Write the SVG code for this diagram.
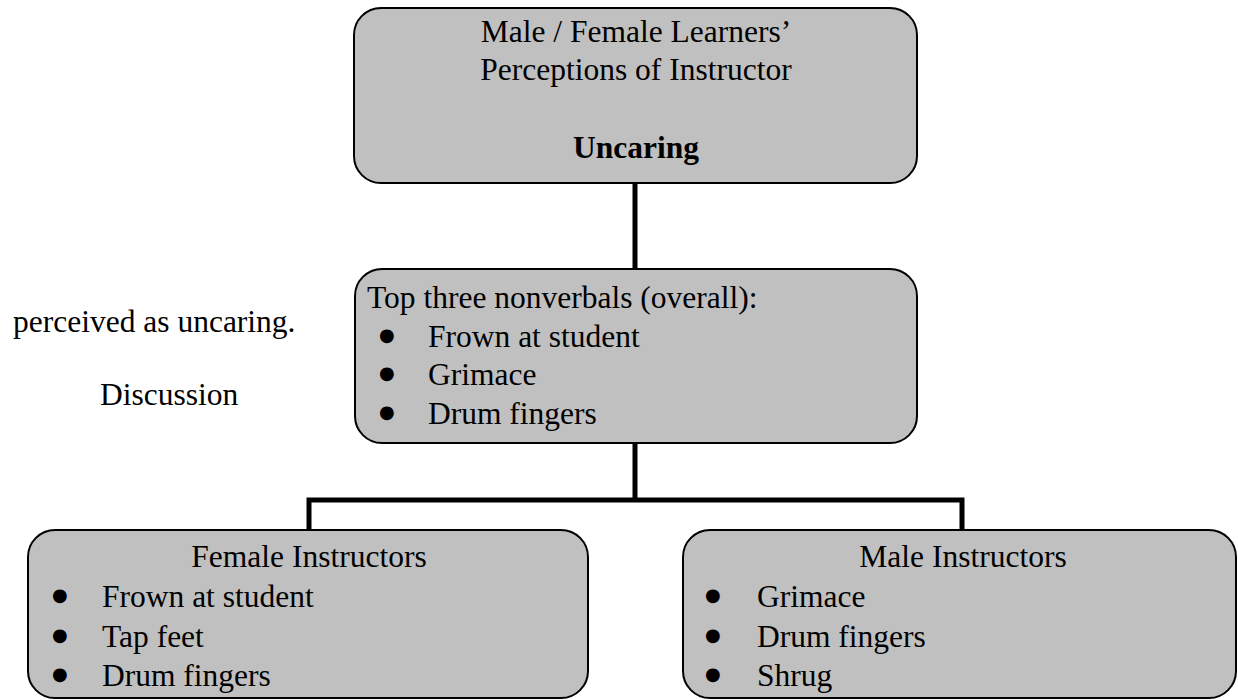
<svg xmlns="http://www.w3.org/2000/svg" width="1238" height="700" viewBox="0 0 1238 700">
<style>
.box{fill:#c0c0c0;stroke:#000;stroke-width:2}
.t{font-family:"Liberation Serif","Times New Roman",serif;font-size:31.5px;fill:#000}
.c{text-anchor:middle}
.b{font-weight:bold}
.bl{font-family:"DejaVu Sans",sans-serif;font-size:18px}
.conn{stroke:#000;stroke-width:5;fill:none}
</style>
<rect width="1238" height="700" fill="#fff"/>
<g id="connectors">
<line class="conn" x1="635" y1="183" x2="635" y2="269"/>
<line class="conn" x1="635" y1="443" x2="635" y2="500"/>
<polyline class="conn" points="309,530 309,500 962,500 962,530"/>
</g>
<g id="top">
<rect class="box" x="354" y="8" width="563" height="175" rx="27"/>
<text class="t c" x="636" y="42">Male / Female Learners’</text>
<text class="t c" x="636" y="80">Perceptions of Instructor</text>
<text class="t c b" x="636" y="158">Uncaring</text>
</g>
<g id="middle">
<rect class="box" x="355" y="269" width="562" height="174" rx="27"/>
<text class="t" x="367" y="308">Top three nonverbals (overall):</text>
<text class="t"><tspan class="bl" x="379" y="341">●</tspan><tspan x="428" y="347">Frown at student</tspan></text>
<text class="t"><tspan class="bl" x="379" y="379">●</tspan><tspan x="428" y="385">Grimace</tspan></text>
<text class="t"><tspan class="bl" x="379" y="418">●</tspan><tspan x="428" y="424">Drum fingers</tspan></text>
</g>
<g id="female">
<rect class="box" x="28" y="530" width="560" height="168" rx="27"/>
<text class="t c" x="309" y="567">Female Instructors</text>
<text class="t"><tspan class="bl" x="52" y="601">●</tspan><tspan x="102" y="607">Frown at student</tspan></text>
<text class="t"><tspan class="bl" x="52" y="641">●</tspan><tspan x="102" y="647">Tap feet</tspan></text>
<text class="t"><tspan class="bl" x="52" y="680">●</tspan><tspan x="102" y="686">Drum fingers</tspan></text>
</g>
<g id="male">
<rect class="box" x="683" y="530" width="553" height="168" rx="27"/>
<text class="t c" x="963" y="567">Male Instructors</text>
<text class="t"><tspan class="bl" x="705" y="601">●</tspan><tspan x="757" y="607">Grimace</tspan></text>
<text class="t"><tspan class="bl" x="705" y="641">●</tspan><tspan x="757" y="647">Drum fingers</tspan></text>
<text class="t"><tspan class="bl" x="705" y="680">●</tspan><tspan x="757" y="686">Shrug</tspan></text>
</g>
<g id="side-text">
<text class="t" x="13" y="332">perceived as uncaring.</text>
<text class="t" x="100" y="405">Discussion</text>
</g>
</svg>
